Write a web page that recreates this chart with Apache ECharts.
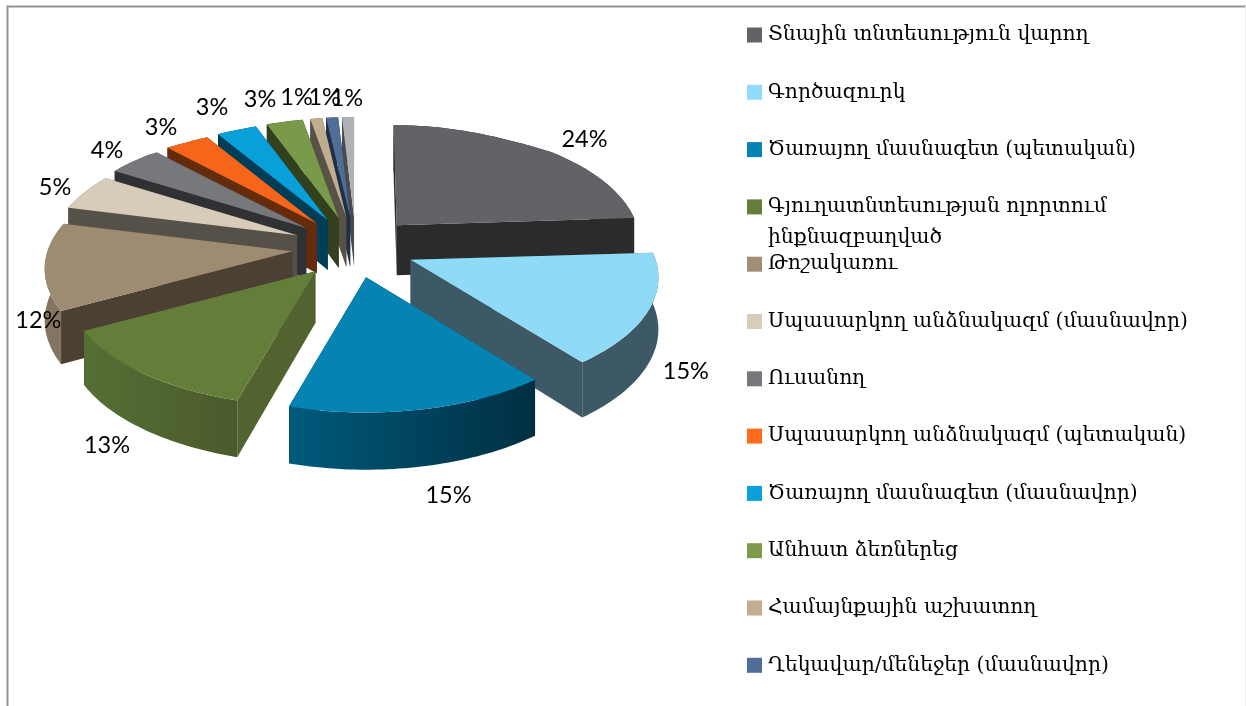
<!DOCTYPE html>
<html>
<head>
<meta charset="utf-8">
<style>html,body{margin:0;padding:0;background:#fff}#c{width:1246px;height:706px}</style>
<script src="https://cdn.jsdelivr.net/npm/echarts@6/dist/echarts.min.js"></script>
</head>
<body>
<div id="c"></div>
<script>
// ---- data ----
const categories = [
  'Տնային տնտեսություն վարող',
  'Գործազուրկ',
  'Ծառայող մասնագետ (պետական)',
  'Գյուղատնտեսության ոլորտում',
  'Թոշակառու',
  'Սպասարկող անձնակազմ (մասնավոր)',
  'Ուսանող',
  'Սպասարկող անձնակազմ (պետական)',
  'Ծառայող մասնագետ (մասնավոր)',
  'Անհատ ձեռներեց',
  'Համայնքային աշխատող',
  'Ղեկավար/մենեջեր (մասնավոր)',
  'Այլ'
];
const wrappedLine = 'ինքնազբաղված';
const shares = [24, 15.4, 15, 12.6, 12, 5, 4, 3, 3, 3, 1, 1, 1];

// ---- styling ----
const topColors  = ['#636267','#8fdaf7','#0583b3','#647e39','#9e8c72','#d7ccba','#76787b','#f5661b','#099fd8','#7a9a4b','#c0ac8e','#4f6e96','#b0b1b5'];
const legendColors = ['#636267','#90dcfa','#0583b3','#647e39','#a08f75','#d8cdbb','#76787b','#ff6a1c','#0aa0da','#7e9b4c','#c3ad8e','#4f6d96','#b0b1b5'];
const wallColors = ['#2a2b2b','#3d5966','#00445e','#52632f','#4b4033','#565148','#303134','#642c0c','#003e58','#33401d','#585146','#1f2f45','#4a4b4e'];
const arcLeft    = ['#2a2b2b','#3d5966','#005a7c','#566f35','#857560','#565148','#303134','#642c0c','#003e58','#33401d','#585146','#1f2f45','#4a4b4e'];
const arcRight   = ['#2a2b2b','#3d5966','#002f42','#4a5a2b','#857560','#565148','#303134','#642c0c','#003e58','#33401d','#585146','#1f2f45','#4a4b4e'];
const labelReach = [1.2,1.16,1.25,1.2,1.03,1.15,1.15,1.15,1.2,1.22,1.19,1.19,1.19];
const labelNudge = [[12,5],[-1,0],[14,-6],[-1,-5],[1,3],[2,2],[-1,-1],[-7,-3],[-7,-4],[-13,-1],[-14,-2],[-4,-1],[0,0]];
const radiusX    = [0.98,1,0.985,1,1,1,1,1,1,1,1,1,1];
const startTilt  = [-0.017,0,0,0,0,0,0,0,0,0,0,0,0];

// ---- pie projection ----
const CX = 354, CY = 247.4, EX = 62, EY = 30.4, RX = 245, RY = 115, PERSP = 0.15;
const total = shares.reduce((a, b) => a + b, 0);
const starts = [];
shares.reduce((acc, v, i) => { starts[i] = acc; return acc + v; }, 0);
const rad = p => p / total * 2 * Math.PI;
const clamp01 = t => Math.max(0, Math.min(1, t));

function apexOf(i) {
  const m = rad(starts[i] + shares[i] / 2), c = Math.cos(m);
  return [CX + EX * Math.sin(m) + 2 * clamp01((c - 0.7) / 0.2), CY - EY * c];
}
function rim(apex, a, r, i) {
  const u = Math.sin(a), v = -Math.cos(a), s = 1 / (1 - PERSP * v);
  const narrow = 1 - 0.1 * clamp01((-v - 0.7) / 0.25);
  return [apex[0] + r * u * narrow * RX * radiusX[i] * s, apex[1] + r * v * RY * s];
}
const depth = y => 50 + 7 * (y - 226) / 182;
const drop = p => [p[0], p[1] + depth(p[1])];

function sliceItem(i) {
  return function (params, api) {
    const value = api.value(0);
    const a0 = rad(starts[i]) + startTilt[i], a1 = rad(starts[i] + value);
    const apex = apexOf(i);
    const n = Math.max(3, Math.ceil((a1 - a0) / 0.02));
    const arc = [];
    for (let k = 0; k <= n; k++) arc.push(rim(apex, a0 + (a1 - a0) * k / n, 1, i));
    const first = arc[0], last = arc[n];
    const walls = [
      { pts: arc.concat(arc.slice().reverse().map(drop)), fill: { type: 'linear', x: 0, y: 0, x2: 1, y2: 0,
          colorStops: [{ offset: 0, color: arcLeft[i] }, { offset: 1, color: arcRight[i] }] } },
      { pts: [apex, first, drop(first), drop(apex)], fill: wallColors[i] },
      { pts: [apex, last, drop(last), drop(apex)], fill: wallColors[i] }
    ];
    const meanY = w => w.pts.reduce((a, p) => a + p[1], 0) / w.pts.length;
    walls.sort((a, b) => meanY(a) - meanY(b));
    const children = walls.map(w => ({ type: 'polygon', shape: { points: w.pts }, style: { fill: w.fill } }));
    children.push({ type: 'polygon', shape: { points: [apex].concat(arc) }, style: { fill: topColors[i] } });
    return { type: 'group', children };
  };
}

function labelItem(params, api) {
  const i = params.dataIndex, value = api.value(0);
  const apex = apexOf(i);
  const m = rad(starts[i] + value / 2);
  const p = rim(apex, m, labelReach[i], i);
  const y = -Math.cos(m) > 0 ? drop(p)[1] : p[1];
  return { type: 'text', style: {
    x: p[0] + labelNudge[i][0], y: y + labelNudge[i][1], text: Math.round(value / total * 100) + '%',
    fill: '#000', font: '23.5px Lato, sans-serif', align: 'center', verticalAlign: 'middle' } };
}

const order = categories.map((_, i) => i).sort((a, b) => apexOf(a)[1] - apexOf(b)[1]);
const series = categories.map((name, i) => ({
  type: 'custom', name, coordinateSystem: 'none', z: 2 + order.indexOf(i) / 20,
  silent: true, animation: false,
  itemStyle: { color: legendColors[i] },
  renderItem: sliceItem(i), data: [[shares[i]]]
}));
series.push({
  type: 'custom', name: 'labels', coordinateSystem: 'none', z: 10, silent: true, animation: false,
  renderItem: labelItem, data: shares.map(v => [v])
});

const LEGEND_FONT = "'DejaVu Serif', serif";
const chart = echarts.init(document.getElementById('c'), null, { renderer: 'canvas' });
chart.setOption({
  backgroundColor: '#fff',
  animation: false,
  legend: {
    data: categories.slice(0, 12),
    orient: 'vertical', left: 747, top: 25, padding: 0, height: 900,
    itemWidth: 15, itemHeight: 15, itemGap: 37.3, selectedMode: false,
    icon: 'rect', align: 'left',
    textStyle: { fontFamily: LEGEND_FONT, fontSize: 20.3, color: '#000', padding: [0, 0, 0, 1] }
  },
  graphic: [
    { type: 'polyline', z: 0, shape: { points: [[7.5, 706], [7.5, 6.5], [1246, 6.5]] }, style: { fill: 'none', stroke: '#949494', lineWidth: 2 } },
    { type: 'line', z: 0, shape: { x1: 1245.5, y1: 6, x2: 1245.5, y2: 706 }, style: { stroke: '#eeeeee', lineWidth: 1 } },
    { type: 'text', left: 768, top: 228, style: { text: wrappedLine, font: '20.3px ' + LEGEND_FONT, fill: '#000' } }
  ],
  series
});
</script>
</body>
</html>
